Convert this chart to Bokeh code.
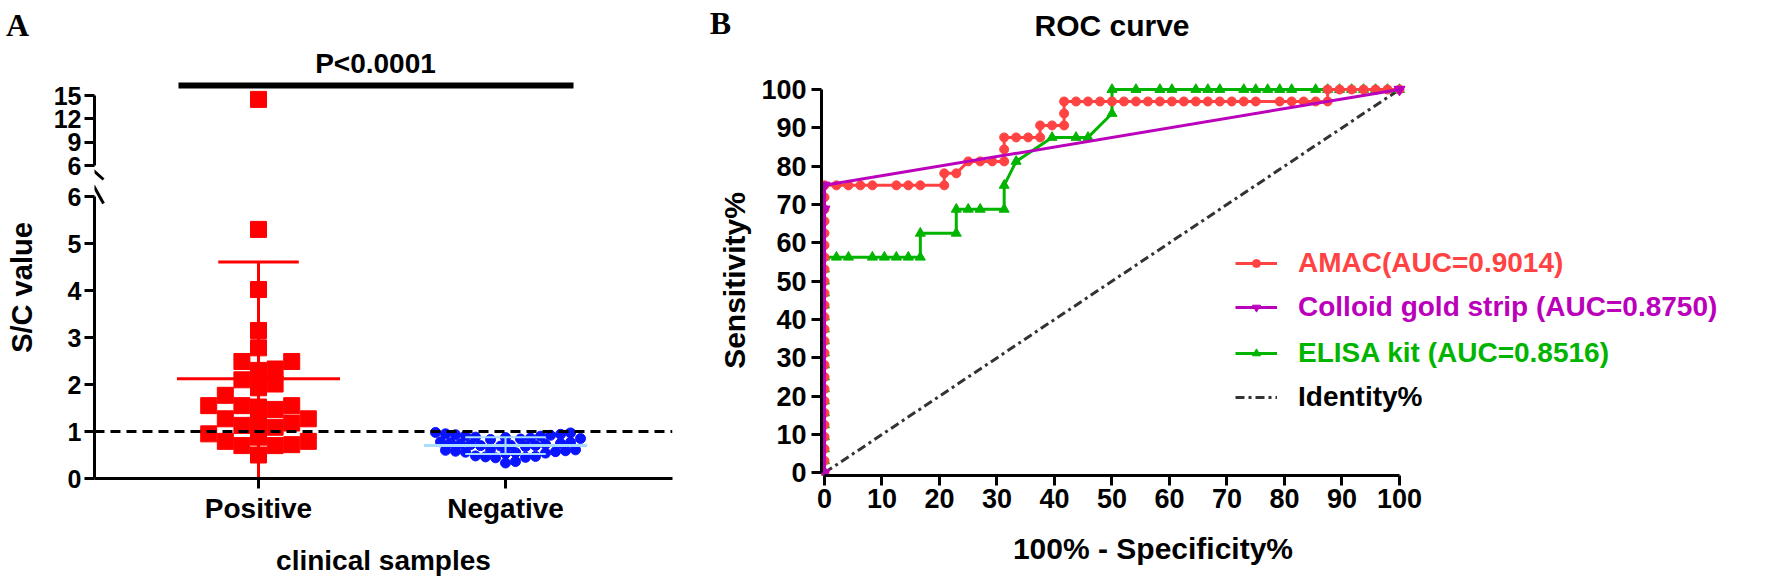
import math
from bokeh.plotting import figure
from bokeh.layouts import row, column
from bokeh.models import Range1d, FixedTicker, Label, Legend, LegendItem, Span
from bokeh.core.properties import value
from bokeh.embed import file_html
from bokeh.resources import INLINE

SANS = "Liberation Sans"
SERIF = "Liberation Serif"

# ---------------- Panel A data ----------------
groups = ["Positive", "Negative"]
positive_sc = [14.5, 5.3, 4.02, 3.15, 2.78, 2.49, 2.49, 2.33, 2.30, 2.10, 2.01, 1.93,
               1.77, 1.55, 1.55, 1.55, 1.52, 1.47, 1.27, 1.27, 1.20, 1.18, 1.13, 1.09,
               0.95, 0.88, 0.79, 0.79, 0.72, 0.70, 0.70, 0.50]
negative_sc = [0.98, 0.97, 0.95, 0.94, 0.93, 0.92, 0.91, 0.90, 0.88, 0.87, 0.86, 0.85, 0.84, 0.83,
               0.78, 0.77, 0.76, 0.75, 0.74, 0.73, 0.72, 0.71, 0.70, 0.70, 0.69, 0.68,
               0.62, 0.61, 0.60, 0.59, 0.58, 0.57, 0.56, 0.55, 0.54, 0.53,
               0.48, 0.47, 0.46, 0.45, 0.44, 0.36, 0.33]
cutoff = 1.0
axis_break = 6
lower_ticks = [0, 1, 2, 3, 4, 5, 6]
upper_ticks = [6, 9, 12, 15]
p_label = "P<0.0001"
a_ylabel = "S/C value"
a_xlabel = "clinical samples"

# ---------------- Panel B data ----------------
roc_ticks = [0, 10, 20, 30, 40, 50, 60, 70, 80, 90, 100]
amac_fpr = [0, 0, 0, 0, 0, 0, 0, 0, 0, 0, 0, 0, 0, 0, 0, 0, 0, 0, 0, 0, 0, 0, 0, 0, 0,
            2.08, 4.17, 6.25, 8.33, 12.5, 14.58, 16.67, 20.83,
            20.83, 22.92,
            25.0, 27.08, 29.17, 31.25,
            31.25, 31.25, 33.33, 35.42, 37.5,
            37.5, 39.58, 41.67,
            41.67, 41.67, 43.75, 45.83, 47.92, 50.0, 52.08, 54.17, 56.25, 58.33, 60.42,
            62.5, 64.58, 66.67, 68.75, 70.83, 72.92, 75.0, 79.17, 81.25, 83.33, 85.42, 87.5,
            87.5, 89.58, 91.67, 93.75, 95.83, 97.92, 100.0]
amac_tpr = [0, 3.13, 6.25, 9.38, 12.5, 15.63, 18.75, 21.88, 25, 28.13, 31.25, 34.38, 37.5,
            40.63, 43.75, 46.88, 50, 53.13, 56.25, 59.38, 62.5, 65.63, 68.75, 71.88, 75,
            75, 75, 75, 75, 75, 75, 75, 75,
            78.13, 78.13,
            81.25, 81.25, 81.25, 81.25,
            84.38, 87.5, 87.5, 87.5, 87.5,
            90.63, 90.63, 90.63,
            93.75, 96.88, 96.88, 96.88, 96.88, 96.88, 96.88, 96.88, 96.88, 96.88, 96.88,
            96.88, 96.88, 96.88, 96.88, 96.88, 96.88, 96.88, 96.88, 96.88, 96.88, 96.88, 96.88,
            100, 100, 100, 100, 100, 100, 100]
gold_fpr = [0, 0, 0, 100]
gold_tpr = [0, 68.75, 75, 100]
elisa_fpr = [0, 0, 0, 0, 0, 0, 0, 0, 0, 0, 0, 0, 0, 0, 0, 0, 0, 0, 0,
             2.08, 4.17, 8.33, 10.42, 12.5, 14.58, 16.67,
             16.67, 22.92, 22.92, 25.0, 27.08, 31.25, 31.25, 33.33,
             39.58, 43.75, 45.83, 50.0, 50.0,
             54.17, 58.33, 60.42, 64.58, 66.67, 68.75, 72.92, 75.0, 77.08, 79.17, 81.25,
             85.42, 87.5, 89.58, 91.67, 93.75, 95.83, 97.92, 100.0]
elisa_tpr = [0, 3.13, 6.25, 9.38, 12.5, 15.63, 18.75, 21.88, 25, 28.13, 31.25, 34.38, 37.5,
             40.63, 43.75, 46.88, 50, 53.13, 56.25,
             56.25, 56.25, 56.25, 56.25, 56.25, 56.25, 56.25,
             62.5, 62.5, 68.75, 68.75, 68.75, 68.75, 75.0, 81.25,
             87.5, 87.5, 87.5, 93.75, 100,
             100, 100, 100, 100, 100, 100, 100, 100, 100, 100, 100,
             100, 100, 100, 100, 100, 100, 100, 100]
identity_x = [0, 100]
identity_y = [0, 100]
roc_title = "ROC curve"
b_xlabel = "100% - Specificity%"
b_ylabel = "Sensitivity%"
series_names = ["AMAC(AUC=0.9014)", "Colloid gold strip (AUC=0.8750)",
                "ELISA kit (AUC=0.8516)", "Identity%"]
series_colors = ["#FF4242", "#BB00BB", "#00B400", "#333333"]

# ---------------- helpers ----------------
def style_axis(ax, size):
    ax.axis_line_width = 3
    ax.axis_line_color = "black"
    ax.major_tick_line_width = 3
    ax.major_tick_line_color = "black"
    ax.major_tick_out = 10
    ax.major_tick_in = 0
    ax.minor_tick_line_color = None
    ax.major_label_text_font = SANS
    ax.major_label_text_font_style = "bold"
    ax.major_label_text_font_size = f"{size}px"
    ax.major_label_text_color = "black"
    ax.axis_label_text_font = SANS
    ax.axis_label_text_font_style = "bold"
    ax.axis_label_text_color = "black"


def clean(p):
    p.grid.visible = False
    p.outline_line_color = None
    p.background_fill_color = "white"
    p.border_fill_color = "white"


def gutter(w, h):
    g = figure(width=w, height=h, x_range=Range1d(0, w), y_range=Range1d(0, h),
               x_axis_location=None, y_axis_location=None, title=None,
               output_backend="svg", toolbar_location=None, min_border=0)
    clean(g)
    return g


def gtext(g, x, y, txt, size, font=SANS, angle=0.0):
    g.text(x=[x], y=[y], text=[txt], angle=angle, text_font=value(font),
           text_font_style="bold", text_font_size=value(f"{size}px"),
           text_align="center", text_baseline="middle", text_color="black")


# ---------------- Panel A geometry (screen px) ----------------
GA_W = 44
A_W = 656
A_LB, A_RB = 50, 28
A_FRAME_W = A_W - A_LB - A_RB            # 578 -> frame from x=94 to 672
XA = Range1d(0.336, 2.676)
PX_X = A_FRAME_W / (XA.end - XA.start)
FRAME_L = GA_W + A_LB                    # 94
LOW_PX = 47.0
UP_PX = 70.0 / 9.0
TOP_H, BOT_H = 182, 398


def ax_x(sx):
    return XA.start + (sx - FRAME_L) / PX_X


def up_y(sy):          # screen y -> upper-segment value (6 sits at y=165)
    return axis_break + (165 - sy) / UP_PX


def low_y(sy):         # screen y -> lower-segment value (0 sits at y=478)
    return (478 - sy) / LOW_PX


def swarm(vals, center, size_px, step_px, square):
    placed, res = [], [0.0] * len(vals)
    offs = [0.0]
    for j in range(1, 60):
        offs += [j * step_px, -j * step_px]
    for i in sorted(range(len(vals)), key=lambda k: vals[k]):
        vy = vals[i] * LOW_PX
        chosen = 0.0
        for off in offs:
            ok = True
            for (qx, qy) in placed:
                dx, dy = abs(off - qx), abs(vy - qy)
                hit = (dx < size_px and dy < size_px) if square else (dx * dx + dy * dy < size_px * size_px)
                if hit:
                    ok = False
                    break
            if ok:
                chosen = off
                break
        placed.append((chosen, vy))
        res[i] = center + chosen / PX_X
    return res


def mean_sd(v):
    m = sum(v) / len(v)
    return m, math.sqrt(sum((x - m) ** 2 for x in v) / (len(v) - 1))


pos_x = swarm(positive_sc, 1, 15.0, 8.3, True)
neg_x = swarm(negative_sc, 2, 8.8, 5.0, False)
pm, ps = mean_sd(positive_sc)
nm, ns = mean_sd(negative_sc)
hi_x = [x for x, v in zip(pos_x, positive_sc) if v > axis_break]
hi_v = [v for v in positive_sc if v > axis_break]
lo_x = [x for x, v in zip(pos_x, positive_sc) if v <= axis_break]
lo_v = [v for v in positive_sc if v <= axis_break]

RED = "#FF0000"
BLUE = "#0A14FF"
LIGHTBLUE = "#A8DDFF"

# ---- left gutter of panel A ----
ga = gutter(GA_W, TOP_H + BOT_H)
gtext(ga, 17, TOP_H + BOT_H - 24, "A", 32, font=SERIF)
gtext(ga, 21, TOP_H + BOT_H - 287, a_ylabel, 29, angle=math.pi / 2)

# ---- upper segment of panel A ----
a_top = figure(width=A_W, height=TOP_H, x_range=XA, y_range=Range1d(up_y(182), up_y(40)),
               output_backend="svg", toolbar_location=None, title=None,
               min_border_left=A_LB, min_border_right=A_RB, min_border_top=40, min_border_bottom=0)
clean(a_top)
a_top.xaxis.visible = False
style_axis(a_top.yaxis[0], 25)
a_top.yaxis.ticker = FixedTicker(ticks=upper_ticks)
a_top.yaxis.bounds = (upper_ticks[0], upper_ticks[-1])
a_top.yaxis.major_label_standoff = 3
a_top.scatter(hi_x, hi_v, marker="square", size=16, color=RED)
a_top.segment(x0=[ax_x(178)], x1=[ax_x(573)], y0=[up_y(85)], y1=[up_y(85)],
              line_width=6, color="black")
a_top.add_layout(Label(x=ax_x(375), y=up_y(63), text=p_label,
                       text_font=SANS, text_font_style="bold", text_font_size="28px",
                       text_align="center", text_baseline="middle", text_color="black"))
a_top.segment(x0=[ax_x(84)], y0=[up_y(162)], x1=[ax_x(103)], y1=[up_y(179)],
              line_width=3, color="black")

# ---- lower segment of panel A ----
a_bot = figure(width=A_W, height=BOT_H, x_range=XA, y_range=Range1d(0, low_y(182)),
               output_backend="svg", toolbar_location=None, title=None,
               min_border_left=A_LB, min_border_right=A_RB, min_border_top=0, min_border_bottom=102)
clean(a_bot)
style_axis(a_bot.yaxis[0], 25)
style_axis(a_bot.xaxis[0], 28)
a_bot.yaxis.ticker = FixedTicker(ticks=lower_ticks)
a_bot.yaxis.bounds = (lower_ticks[0], lower_ticks[-1])
a_bot.yaxis.major_label_standoff = 3
a_bot.xaxis.ticker = FixedTicker(ticks=[1, 2])
a_bot.xaxis.major_label_overrides = {1: groups[0], 2: groups[1]}
a_bot.xaxis.major_label_standoff = 4
a_bot.xaxis.axis_label = a_xlabel
a_bot.xaxis.axis_label_text_font_size = "28px"
a_bot.xaxis.axis_label_standoff = 18

a_bot.scatter(lo_x, lo_v, marker="square", size=16, color=RED)
a_bot.scatter(neg_x, negative_sc, marker="circle", size=10, color=BLUE)
lo_err = max(0, pm - ps)
a_bot.segment(x0=[1], x1=[1], y0=[lo_err], y1=[pm + ps], line_width=3, color=RED)
a_bot.segment(x0=[1 - 0.33], x1=[1 + 0.33], y0=[pm], y1=[pm], line_width=3, color=RED)
a_bot.segment(x0=[1 - 0.163, 1 - 0.163], x1=[1 + 0.163, 1 + 0.163],
              y0=[pm + ps, lo_err], y1=[pm + ps, lo_err], line_width=3, color=RED)
a_bot.segment(x0=[2], x1=[2], y0=[nm - ns], y1=[nm + ns], line_width=2, color=LIGHTBLUE)
a_bot.segment(x0=[2 - 0.33], x1=[2 + 0.33], y0=[nm], y1=[nm], line_width=3, color=LIGHTBLUE)
a_bot.segment(x0=[2 - 0.163, 2 - 0.163], x1=[2 + 0.163, 2 + 0.163],
              y0=[nm + ns, nm - ns], y1=[nm + ns, nm - ns], line_width=2, color=LIGHTBLUE)
a_bot.add_layout(Span(location=cutoff, dimension="width", line_dash="10 6",
                      line_width=3, line_color="black"))
a_bot.segment(x0=[ax_x(93)], y0=[low_y(185)], x1=[ax_x(103)], y1=[low_y(203)],
              line_width=3, color="black")

# ---------------- Panel B ----------------
GB_W = 58
B_TOTAL_H = 574
FOOT_H = 43
B_H = B_TOTAL_H - FOOT_H                  # 531
B_W = 1769 - GA_W - A_W - GB_W            # 1011
B_LB, B_BB = 63, 56
B_X0 = GA_W + A_W + GB_W                  # 758
FRAME_BL = B_X0 + B_LB                    # 821
PXB_X = 5.75
PXB_Y = 3.833
XB = Range1d(-0.52, -0.52 + (B_W - B_LB) / PXB_X)
YB = Range1d(-0.70, -0.70 + (B_H - B_BB) / PXB_Y)


def by(sy):
    return YB.start + (B_H - B_BB - sy) / PXB_Y


gb = gutter(GB_W, B_TOTAL_H)
gtext(gb, 20, B_TOTAL_H - 22, "B", 32, font=SERIF)
gtext(gb, 34, B_TOTAL_H - 280, b_ylabel, 30, angle=math.pi / 2)

b = figure(width=B_W, height=B_H, x_range=XB, y_range=YB, output_backend="svg",
           toolbar_location=None, title=None, min_border_left=B_LB, min_border_right=0,
           min_border_top=0, min_border_bottom=B_BB)
clean(b)
for ax in (b.xaxis[0], b.yaxis[0]):
    style_axis(ax, 27)
    ax.ticker = FixedTicker(ticks=roc_ticks)
    ax.bounds = (roc_ticks[0], roc_ticks[-1])
b.xaxis.major_label_standoff = 3
b.yaxis.major_label_standoff = 5

b.text(x=[50], y=[by(25)], text=[roc_title], text_font=value(SANS), text_font_style="bold",
       text_font_size=value("30px"), text_align="center", text_baseline="middle",
       text_color="black")

r_id = b.line(identity_x, identity_y, line_dash="9 4 3 4", line_width=3, color=series_colors[3])
r_el_l = b.line(elisa_fpr, elisa_tpr, line_width=3, color=series_colors[2])
r_el_s = b.scatter(elisa_fpr, elisa_tpr, marker="triangle", size=10, color=series_colors[2])
r_am_l = b.line(amac_fpr, amac_tpr, line_width=3, color=series_colors[0])
r_am_s = b.scatter(amac_fpr, amac_tpr, marker="circle", size=9, color=series_colors[0])
r_go_l = b.line(gold_fpr, gold_tpr, line_width=3, color=series_colors[1])
r_go_s = b.scatter(gold_fpr, gold_tpr, marker="inverted_triangle", size=11, color=series_colors[1])

legend_rs = [[r_am_l, r_am_s], [r_go_l, r_go_s], [r_el_l, r_el_s], [r_id]]
legend_cy = [262, 306, 352, 396]
LH = 33
for name, col, rs, cy in zip(series_names, series_colors, legend_rs, legend_cy):
    lg = Legend(items=[LegendItem(label=name, renderers=rs)],
                location=(1235 - FRAME_BL, (B_H - B_BB) - (cy + LH / 2)),
                label_text_color=("black" if name == "Identity%" else col),
                label_text_font=SANS, label_text_font_style="bold", label_text_font_size="28px",
                glyph_width=42, glyph_height=20, label_standoff=21, padding=0, margin=0,
                spacing=0, border_line_alpha=0, background_fill_alpha=0)
    b.add_layout(lg)

# footer carrying the x-axis title, centred under the 0..100 axis
foot = gutter(B_W, FOOT_H)
gtext(foot, (FRAME_BL + 3 + 50 * PXB_X) - B_X0, FOOT_H - (548 - B_H), b_xlabel, 30)

layout = row(ga, column(a_top, a_bot, spacing=0), gb, column(b, foot, spacing=0), spacing=0)
open("out.html", "w").write(file_html(layout, INLINE))
